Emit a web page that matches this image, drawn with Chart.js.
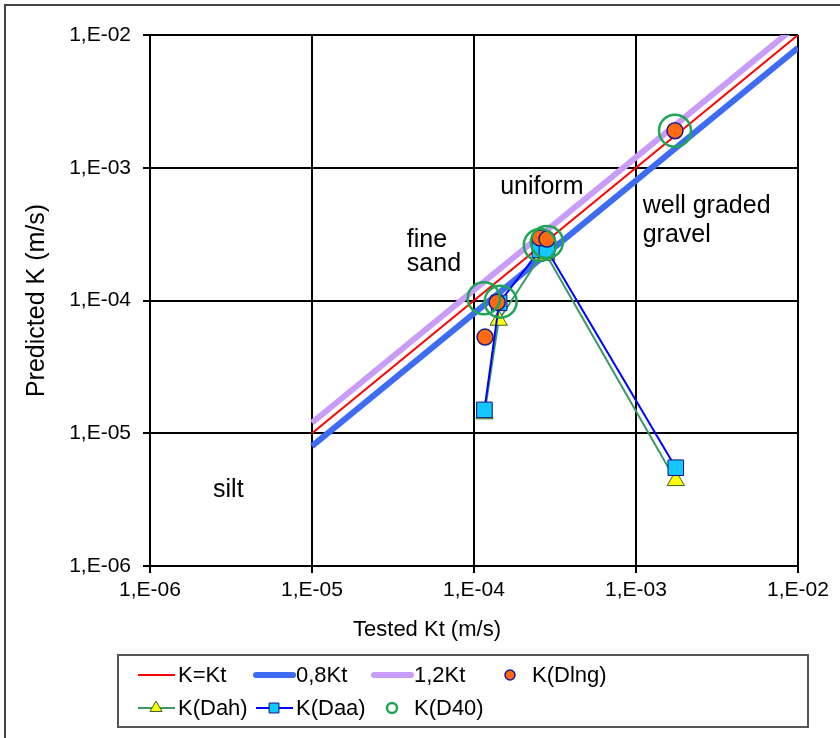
<!DOCTYPE html>
<html>
<head>
<meta charset="utf-8">
<script src="https://cdn.jsdelivr.net/npm/chart.js@4/dist/chart.umd.min.js"></script>
<style>
  html, body { margin: 0; padding: 0; background: #fff; }
  canvas { display: block; }
</style>
</head>
<body>
<canvas id="kChart" width="840" height="738"></canvas>
<script>
// decade ticks shared by both axes
const tickValues = [1e-6, 1e-5, 1e-4, 1e-3, 1e-2];
const tickLabels = ['1,E-06', '1,E-05', '1,E-04', '1,E-03', '1,E-02'];

// reference lines (end points)
const lineKtX = [1e-5, 1e-2];
const lineKtY = [1e-5, 1e-2];
const line08Y = [8e-6, 8e-3];
const line12Y = [1.2e-5, 1.2e-2];

// measured vs predicted permeability
const ktDlng = [1.17e-4, 1.39e-4, 2.55e-4, 2.82e-4, 1.74e-3];
const kDlng  = [5.3e-5, 9.7e-5, 2.96e-4, 2.9e-4, 1.9e-3];
const ktDah  = [1.16e-4, 1.42e-4, 2.6e-4, 2.8e-4, 1.76e-3];
const kDah   = [1.4e-5, 7.1e-5, 2.2e-4, 2.2e-4, 4.4e-6];
const ktDaa  = [1.16e-4, 1.43e-4, 2.55e-4, 2.82e-4, 1.76e-3];
const kDaa   = [1.5e-5, 9.6e-5, 2.4e-4, 2.4e-4, 5.5e-6];
const ktD40  = [1.15e-4, 1.46e-4, 2.55e-4, 2.82e-4, 1.74e-3];
const kD40   = [1.04e-4, 9.8e-5, 2.62e-4, 2.76e-4, 1.9e-3];

// soil class notes
const noteText = ['fine', 'sand', 'uniform', 'well graded', 'gravel', 'silt'];
const noteX    = [3.85e-5, 3.85e-5, 1.45e-4, 1.1e-3, 1.1e-3, 2.45e-6];
const noteY    = [2.86e-4, 1.88e-4, 7.16e-4, 5.15e-4, 3.11e-4, 3.74e-6];

const xTitle = 'Tested Kt (m/s)';
const yTitle = 'Predicted K (m/s)';

const pts = (xs, ys) => xs.map((x, i) => ({ x: x, y: ys[i] }));
const FONT = "'Liberation Sans', Arial, sans-serif";

const datasets = [
  { label: 'K=Kt', data: pts(lineKtX, lineKtY), borderColor: '#ff0000', borderWidth: 2,
    pointRadius: 0, showLine: true, order: 5 },
  { label: '0,8Kt', data: pts(lineKtX, line08Y), borderColor: '#3d6cf2', borderWidth: 6,
    pointRadius: 0, showLine: true, order: 6 },
  { label: '1,2Kt', data: pts(lineKtX, line12Y), borderColor: '#c99cf7', borderWidth: 6,
    pointRadius: 0, showLine: true, order: 7 },
  { label: 'K(Dlng)', data: pts(ktDlng, kDlng), showLine: false, pointStyle: 'circle',
    pointRadius: 8, backgroundColor: '#ff6a10', borderColor: '#1c1c8c', borderWidth: 1.5, order: 2 },
  { label: 'K(Dah)', data: pts(ktDah, kDah), showLine: true, borderColor: '#3a9966', borderWidth: 2,
    pointStyle: 'triangle', pointRadius: 10, pointBackgroundColor: '#ffff00',
    pointBorderColor: '#336633', pointBorderWidth: 1, order: 4 },
  { label: 'K(Daa)', data: pts(ktDaa, kDaa), showLine: true, borderColor: '#0000ff', borderWidth: 2,
    pointStyle: 'rect', pointRadius: 11, pointBackgroundColor: '#14c8ff',
    pointBorderColor: '#10108a', pointBorderWidth: 1, order: 3 },
  { label: 'K(D40)', data: pts(ktD40, kD40), showLine: false, pointStyle: 'circle',
    pointRadius: 16, backgroundColor: 'rgba(0,0,0,0)', borderColor: '#1fa655', borderWidth: 2.5, order: 1 }
];

// legend grid: dataset index, column, row
const legendSlots = [[0, 0, 0], [1, 1, 0], [2, 2, 0], [3, 3, 0], [4, 0, 1], [5, 1, 1], [6, 2, 1]];

const framePlugin = {
  id: 'frame',
  beforeDraw(chart) {
    const ctx = chart.ctx;
    ctx.save();
    ctx.fillStyle = '#fff';
    ctx.fillRect(0, 0, chart.width, chart.height);
    ctx.strokeStyle = '#444';
    ctx.lineWidth = 2;
    ctx.beginPath();
    ctx.moveTo(5, chart.height);
    ctx.lineTo(5, 5);
    ctx.lineTo(chart.width, 5);
    ctx.stroke();
    ctx.restore();
  }
};

const notesPlugin = {
  id: 'notes',
  afterDatasetsDraw(chart) {
    const ctx = chart.ctx;
    const xs = chart.scales.x, ys = chart.scales.y;
    ctx.save();
    ctx.fillStyle = '#000';
    ctx.font = '25px ' + FONT;
    ctx.textAlign = 'left';
    ctx.textBaseline = 'middle';
    noteText.forEach((t, i) => {
      ctx.fillText(t, xs.getPixelForValue(noteX[i]), ys.getPixelForValue(noteY[i]));
    });
    // x axis title sits a little left of the plot centre
    ctx.font = '22px ' + FONT;
    ctx.textAlign = 'center';
    ctx.fillText(xTitle, 427, 630);
    ctx.restore();
  }
};

const legendPlugin = {
  id: 'boxLegend',
  afterDraw(chart) {
    const ctx = chart.ctx;
    const left = 118, top = 655, w = 690, h = 72;
    ctx.save();
    ctx.strokeStyle = '#555';
    ctx.lineWidth = 2;
    ctx.strokeRect(left, top, w, h);
    ctx.font = '22px ' + FONT;
    ctx.textBaseline = 'middle';
    ctx.textAlign = 'left';
    legendSlots.forEach(([di, col, row]) => {
      const ds = chart.data.datasets[di];
      const x0 = 138 + col * 118;
      const y = 675 + row * 33;
      if (ds.showLine) {
        ctx.strokeStyle = ds.borderColor;
        ctx.lineWidth = ds.borderWidth;
        ctx.lineCap = ds.borderWidth > 3 ? 'round' : 'butt';
        ctx.beginPath();
        ctx.moveTo(x0, y);
        ctx.lineTo(x0 + 37, y);
        ctx.stroke();
      }
      if (ds.pointRadius > 0) {
        ctx.fillStyle = ds.pointBackgroundColor || ds.backgroundColor;
        ctx.strokeStyle = ds.pointBorderColor || ds.borderColor;
        ctx.lineWidth = ds.pointBorderWidth || ds.borderWidth;
        const r = ds.pointStyle === 'circle' ? 5 : 7;
        Chart.helpers.drawPoint(ctx, { pointStyle: ds.pointStyle, radius: r, rotation: 0,
          borderWidth: ctx.lineWidth }, x0 + 18, y);
      }
      ctx.fillStyle = '#000';
      ctx.fillText(ds.label, x0 + 40, y + 1);
    });
    ctx.restore();
  }
};

const decadeTicks = scale => { scale.ticks = tickValues.map(v => ({ value: v })); };
const tickText = v => {
  const i = tickValues.findIndex(t => Math.abs(Math.log10(t) - Math.log10(v)) < 1e-6);
  return i >= 0 ? tickLabels[i] : '';
};

new Chart(document.getElementById('kChart'), {
  type: 'scatter',
  data: { datasets: datasets },
  plugins: [framePlugin, notesPlugin, legendPlugin],
  options: {
    responsive: false,
    animation: false,
    devicePixelRatio: 1,
    layout: { padding: { left: 10, top: 35, right: 42, bottom: 92 } },
    plugins: { legend: { display: false }, tooltip: { enabled: false } },
    scales: {
      x: {
        type: 'logarithmic', min: 1e-6, max: 1e-2,
        afterBuildTicks: decadeTicks,
        afterFit: s => { s.height = 80; },
        border: { color: '#000', width: 2 },
        grid: { color: '#000', lineWidth: 2, tickLength: 7, tickColor: '#000' },
        ticks: { color: '#000', padding: 5, maxRotation: 0, autoSkip: false,
          font: { family: FONT, size: 21 }, callback: tickText },
        title: { display: false }
      },
      y: {
        type: 'logarithmic', min: 1e-6, max: 1e-2,
        afterBuildTicks: decadeTicks,
        afterFit: s => { s.width = 140; },
        border: { color: '#000', width: 2 },
        grid: { color: '#000', lineWidth: 2, tickLength: 7, tickColor: '#000' },
        ticks: { color: '#000', padding: 12, autoSkip: false,
          font: { family: FONT, size: 21 }, callback: tickText },
        title: { display: true, text: yTitle, color: '#000',
          font: { family: FONT, size: 25 }, padding: { top: 12, bottom: 0 } }
      }
    }
  }
});
</script>
</body>
</html>
